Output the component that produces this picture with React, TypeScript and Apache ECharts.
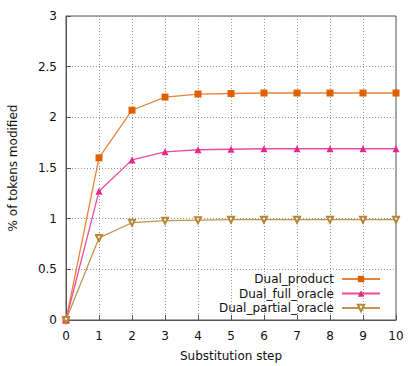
import React, { useEffect, useRef } from "react";
import * as echarts from "echarts";

const steps = [0, 1, 2, 3, 4, 5, 6, 7, 8, 9, 10];
const dualProduct = [0, 1.6, 2.07, 2.2, 2.23, 2.235, 2.24, 2.24, 2.24, 2.24, 2.24];
const dualFullOracle = [0, 1.27, 1.58, 1.66, 1.68, 1.685, 1.69, 1.69, 1.69, 1.69, 1.69];
const dualPartialOracle = [0, 0.81, 0.96, 0.98, 0.985, 0.99, 0.99, 0.99, 0.99, 0.99, 0.99];

const seriesNames = ["Dual_product", "Dual_full_oracle", "Dual_partial_oracle"];
const FONT = "DejaVu Sans";

export default function App() {
  const ref = useRef<HTMLDivElement>(null);
  useEffect(() => {
    if (!ref.current) return;
    const chart = echarts.init(ref.current, undefined, { renderer: "svg" });
    const mk = (vals: number[]) => steps.map((s, i) => [s, vals[i]]);
    chart.setOption({
      animation: false,
      backgroundColor: "#ffffff",
      textStyle: { fontFamily: FONT },
      grid: {
        left: 66,
        right: 23,
        top: 16,
        bottom: 46,
        containLabel: false,
        outerBoundsMode: "none",
        show: true,
        borderColor: "#555",
        borderWidth: 1,
        backgroundColor: "transparent",
      },
      legend: {
        orient: "vertical",
        align: "right",
        right: 33,
        top: 267,
        itemWidth: 38,
        itemHeight: 8,
        itemGap: 0.5,
        textStyle: { fontFamily: FONT, fontSize: 12, color: "#111", lineHeight: 14, padding: [0, 3, 0, 0] },
        data: seriesNames,
      },
      xAxis: {
        type: "value",
        min: 0,
        max: 10,
        interval: 1,
        name: "Substitution step",
        nameLocation: "middle",
        nameGap: 30,
        nameTextStyle: { fontFamily: FONT, fontSize: 12, color: "#111" },
        axisLine: { show: true, lineStyle: { color: "#555" } },
        axisTick: { show: true, inside: true, length: 5, lineStyle: { color: "#555" } },
        axisLabel: { fontFamily: FONT, fontSize: 12, color: "#111", margin: 10 },
        splitLine: { show: true, lineStyle: { color: "#999", type: [1, 2], width: 1 } },
      },
      yAxis: {
        type: "value",
        min: 0,
        max: 3,
        interval: 0.5,
        name: "% of tokens modified",
        nameLocation: "middle",
        nameGap: 47,
        nameTextStyle: { fontFamily: FONT, fontSize: 12, color: "#111" },
        axisLine: { show: true, lineStyle: { color: "#555" } },
        axisTick: { show: true, inside: true, length: 5, lineStyle: { color: "#555" } },
        axisLabel: { fontFamily: FONT, fontSize: 12, color: "#111", margin: 9 },
        splitLine: { show: true, lineStyle: { color: "#999", type: [1, 2], width: 1 } },
      },
      series: [
        {
          name: seriesNames[0],
          type: "line",
          data: mk(dualProduct),
          symbol: "rect",
          symbolSize: 7,
          color: "#e06000",
          lineStyle: { width: 1.3, color: "#e8843a" },
          itemStyle: { color: "#e06000" },
          z: 3,
        },
        {
          name: seriesNames[1],
          type: "line",
          data: mk(dualFullOracle),
          symbol: "triangle",
          symbolSize: 7,
          color: "#e7298a",
          lineStyle: { width: 1.3, color: "#ec4c9c" },
          itemStyle: { color: "#e7298a" },
          z: 4,
        },
        {
          name: seriesNames[2],
          type: "line",
          data: mk(dualPartialOracle),
          symbol: "emptyTriangle",
          symbolRotate: 180,
          symbolSize: 6,
          color: "#b8863b",
          lineStyle: { width: 1.3, color: "#c0954f" },
          itemStyle: { color: "#b8863b", borderColor: "#b0803a", borderWidth: 1.2 },
          z: 5,
        },
      ],
    });
    return () => chart.dispose();
  }, []);
  return <div ref={ref} style={{ width: 419, height: 366, position: "absolute", left: 0, top: 0 }} />;
}
